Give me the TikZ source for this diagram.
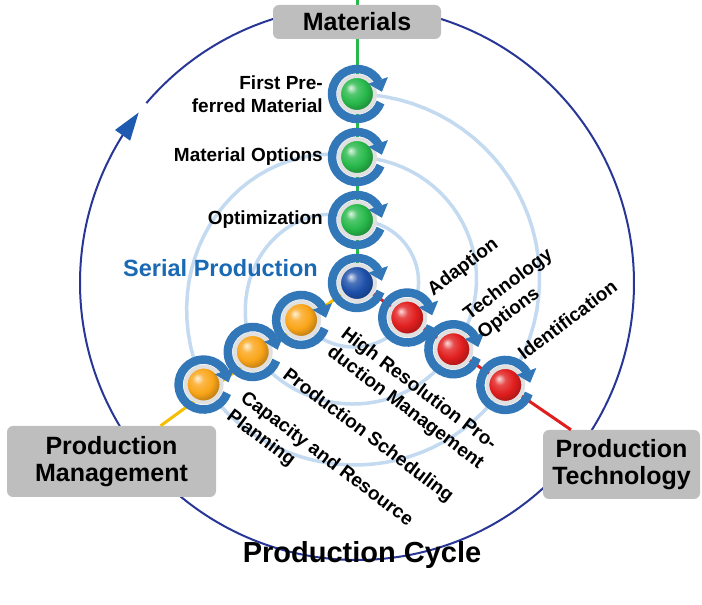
\documentclass[tikz,border=0pt]{standalone}
\usepackage{fontspec}
\setmainfont{Liberation Sans}
\usetikzlibrary{arrows.meta,bending,positioning}
\definecolor{cyclecolor}{RGB}{40,55,150}
\definecolor{cyclearrow}{RGB}{30,90,175}
\definecolor{ringcolor}{RGB}{50,120,185}
\definecolor{spiralcolor}{RGB}{195,218,240}
\definecolor{serialcolor}{RGB}{25,105,180}
\definecolor{matgreen}{RGB}{40,185,75}
\definecolor{centerblue}{RGB}{30,80,170}
\definecolor{techred}{RGB}{225,30,30}
\definecolor{mgmtorange}{RGB}{250,165,25}
\definecolor{mgmtyellow}{RGB}{245,190,0}
\definecolor{boxgray}{RGB}{190,190,190}
\makeatletter
\pgfdeclareradialshading[tikz@ball]{glossy}{\pgfpoint{-9bp}{9bp}}{%
	color(0bp)=(tikz@ball!15!white);
	color(8bp)=(tikz@ball!80!white);
	color(18bp)=(tikz@ball);
	color(26bp)=(tikz@ball!80!black);
	color(50bp)=(tikz@ball!65!black)}
\makeatother
\tikzset{
	ball/.style={
		circle,
		ball color=#1,
		shading=glossy,
		draw=black!12,
		line width=4pt,
		minimum size=36pt,
		inner sep=0pt
	},
	ring/.style={
		draw=ringcolor,
		line width=8.5pt,
		-{Triangle[length=12pt,width=20pt]}
	},
	spiral/.style={
		draw=spiralcolor,
		line width=3.5pt,
		line cap=round
	},
	cycleline/.style={
		draw=cyclecolor,
		line width=2pt,
		-{Triangle[length=28pt,width=18pt,color=cyclearrow]}
	},
	armline/.style={
		draw=#1,
		line width=3pt
	},
	box/.style={
		rectangle,
		rounded corners=6pt,
		fill=boxgray,
		align=center,
		inner sep=0pt,
		font=\bfseries\fontsize{25}{27}\selectfont
	},
	lbl/.style={
		inner sep=0pt,
		font=\bfseries\fontsize{19}{23}\selectfont
	},
	serial/.style={
		inner sep=0pt,
		text=serialcolor,
		font=\bfseries\fontsize{23.5}{28}\selectfont
	},
	cyclename/.style={
		inner sep=0pt,
		font=\bfseries\fontsize{29}{33}\selectfont
	},
}

\begin{document}
\begin{tikzpicture}[x=1pt,y=1pt,node distance=63pt,on grid]
	\useasboundingbox (0,0) rectangle (702,605);
	\coordinate (c) at (357,322);
	\coordinate (top) at (357,605);
	%\draw[help lines] (0,0) grid[step=50] (702,605);

	\draw[cycleline] ([shift={(139.5:277)}]c) arc[start angle=139.5, end angle=-218, radius=277];

	\foreach \a/\ra/\e/\re in {90/189/-34.5/180, -34.5/180/-146.5/184, -146.5/184/-270/126, -270/126/-394.5/117, -394.5/117/-506.5/125, -506.5/125/-630/63, -630/63/-754.5/61, -754.5/61/-866.5/67}
		\draw[spiral, shift={(c)}] plot[domain=0:1, samples=30, variable=\t] ({\a+(\e-\a)*\t}:{\ra+(\re-\ra)*\t});

	\draw[armline=matgreen] (c) -- (top);
	\node[box, minimum width=168pt, minimum height=34pt] (mat) at (357,583) {Materials};
	\node[box, minimum width=209pt, minimum height=71pt] (pmgmt) at (111.5,143.5) {Production\\Management};
	\node[box, minimum width=157pt, minimum height=69pt] (ptech) at (621.5,140.5) {Production\\Technology};
	\draw[armline=techred] (c) -- (ptech);
	\draw[armline=mgmtyellow] (c) -- (pmgmt);

	\node[ball=centerblue] (b) at (c) {};
	\node[ball=matgreen] (g1) [above=of b] {};
	\node[ball=matgreen] (g2) [above=of g1] {};
	\node[ball=matgreen] (g3) [above=of g2] {};
	\node[ball=techred] (r1) at ([shift={(-34.5:61)}]c) {};
	\node[ball=techred] (r2) at ([shift={(-34.5:117)}]c) {};
	\node[ball=techred] (r3) at ([shift={(-34.5:180)}]c) {};
	\node[ball=mgmtorange] (o1) at ([shift={(-146.5:67)}]c) {};
	\node[ball=mgmtorange] (o2) at ([shift={(-146.5:125)}]c) {};
	\node[ball=mgmtorange] (o3) at ([shift={(-146.5:184)}]c) {};

	\foreach \s in {b,g1,g2,g3,r1,r2,r3,o1,o2,o3}
		\draw[ring] ([shift={(-20:25)}]\s.center) arc[start angle=-20, end angle=-355, radius=25];

	\node[lbl, anchor=east, align=right] (first) at ([xshift=-34]g3) {First Pre-\\ferred Material};
	\node[lbl, anchor=east] (options) at ([xshift=-34]g2) {Material Options};
	\node[lbl, anchor=east] (optim) at ([xshift=-34]g1) {Optimization};
	\node[serial, anchor=east] (serialprod) at ([shift={(-39,15)}]b) {Serial Production};

	\node[lbl, rotate=37] (adapt) at ([shift={(56,50)}]r1) {Adaption};
	\node[lbl, rotate=37, align=left] (techopt) at ([shift={(62,55)}]r2) {Technology\\Options};
	\node[lbl, rotate=37] (ident) at ([shift={(62,65)}]r3) {Identification};

	\node[lbl, rotate=-37, align=left] (hires) at ([shift={(111,-79)}]o1) {High Resolution Pro-\\duction Management};
	\node[lbl, rotate=-37] (sched) at ([shift={(115,-84)}]o2) {Production Scheduling};
	\node[lbl, rotate=-37, align=left] (capac) at ([shift={(116,-84)}]o3) {Capacity and Resource\\Planning};

	\node[cyclename, anchor=base] (cycle) at (362,42) {Production Cycle};
\end{tikzpicture}
\end{document}
